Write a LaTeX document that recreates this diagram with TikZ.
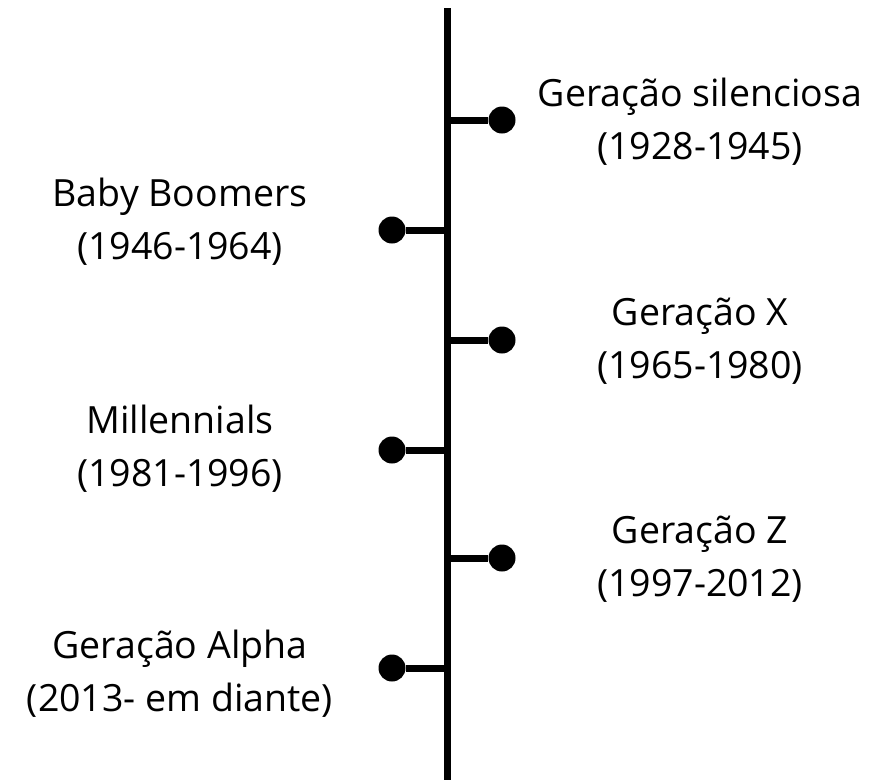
\documentclass[tikz,border=0pt]{standalone}
\usepackage{fontspec}
\setmainfont{Open Sans}
\begin{document}
\begin{tikzpicture}[x=1pt,y=-1pt,
  dot/.style={circle,fill=black,inner sep=0pt,minimum size=27pt},
  lbl/.style={font=\fontsize{37.5}{45}\selectfont,inner sep=0pt,anchor=base},
  ln/.style={line width=7pt}]
\useasboundingbox (0,0) rectangle (884,780);
\coordinate (top) at (447,8);
\coordinate (bot) at (447,780);
\draw[ln] (top) -- (bot);
% right branches
\foreach \n/\y in {r1/120,r2/340,r3/558}{
  \coordinate (\n c) at (447,\y);
  \node[dot] (\n) at (502,\y) {};
  \draw[ln] (\n c) -- (\n);
}
% left branches
\foreach \n/\y in {l1/230,l2/450,l3/668}{
  \coordinate (\n c) at (447,\y);
  \node[dot] (\n) at (392,\y) {};
  \draw[ln] (\n c) -- (\n);
}
\node[lbl] (t1a) at (700,106) {Geração silenciosa};
\node[lbl] (t1b) at (700,159) {(1928-1945)};
\node[lbl] (t2a) at (180,206) {Baby Boomers};
\node[lbl] (t2b) at (180,259) {(1946-1964)};
\node[lbl] (t3a) at (700,325) {Geração X};
\node[lbl] (t3b) at (700,378) {(1965-1980)};
\node[lbl] (t4a) at (180,433) {Millennials};
\node[lbl] (t4b) at (180,486) {(1981-1996)};
\node[lbl] (t5a) at (700,543) {Geração Z};
\node[lbl] (t5b) at (700,596) {(1997-2012)};
\node[lbl] (t6a) at (180,658) {Geração Alpha};
\node[lbl] (t6b) at (180,711) {(2013- em diante)};
\end{tikzpicture}
\end{document}
